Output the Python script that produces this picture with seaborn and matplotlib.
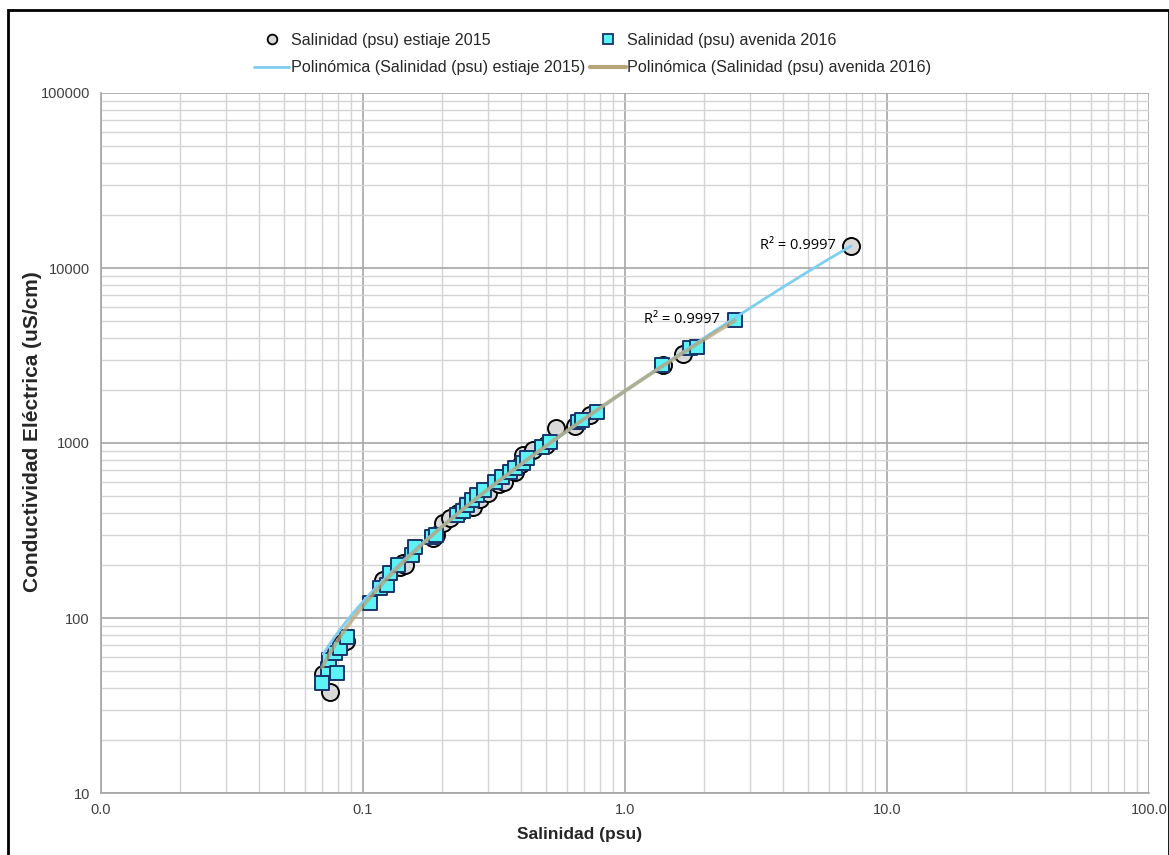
import numpy as np
import pandas as pd
import matplotlib
matplotlib.use("Agg")
import matplotlib.pyplot as plt
import seaborn as sns
from matplotlib.ticker import LogLocator, FixedLocator, FixedFormatter, NullFormatter
from matplotlib.patches import Rectangle
from matplotlib.lines import Line2D

# Salinity (psu) vs electrical conductivity (uS/cm) - dry season 2015
sal_estiaje = [0.0705, 0.0749, 0.083, 0.086, 0.119, 0.138, 0.142, 0.145, 0.185, 0.19,
               0.202, 0.215, 0.23, 0.25, 0.262, 0.28, 0.30, 0.33, 0.345, 0.38,
               0.40, 0.408, 0.446, 0.50, 0.545, 0.645, 0.735, 1.40, 1.66, 7.29]
ce_estiaje = [48, 38, 72, 74, 165, 195, 206, 200, 285, 300,
              349, 375, 400, 440, 430, 480, 520, 580, 600, 680,
              760, 854, 912, 980, 1218, 1250, 1445, 2790, 3226, 13360]

# Wet season 2016
sal_avenida = [0.0698, 0.0735, 0.0741, 0.0784, 0.0796, 0.0817, 0.0869, 0.106, 0.116, 0.124,
               0.127, 0.136, 0.154, 0.158, 0.183, 0.19, 0.229, 0.24, 0.249, 0.26,
               0.272, 0.29, 0.319, 0.34, 0.364, 0.38, 0.408, 0.422, 0.482, 0.517,
               0.662, 0.685, 0.782, 1.38, 1.77, 1.88, 2.63]
ce_avenida = [42.6, 51.2, 57.5, 63, 48.5, 67.4, 77.8, 122, 148, 154,
              181, 201, 229, 255, 290, 300, 388, 410, 443, 470,
              505, 540, 598, 640, 682, 720, 769, 821, 949, 1013,
              1318, 1353, 1503, 2790, 3490, 3540, 5050]

r2_label = "R² = 0.9997"
x_ticks = [0.01, 0.1, 1, 10, 100]
x_tick_labels = ["0.0", "0.1", "1.0", "10.0", "100.0"]
y_ticks = [10, 100, 1000, 10000, 100000]
y_tick_labels = ["10", "100", "1000", "10000", "100000"]

lbl_est = "Salinidad (psu) estiaje 2015"
lbl_ave = "Salinidad (psu) avenida 2016"

df = pd.concat([
    pd.DataFrame({"sal": sal_estiaje, "ce": ce_estiaje, "serie": lbl_est}),
    pd.DataFrame({"sal": sal_avenida, "ce": ce_avenida, "serie": lbl_ave}),
])

sns.set_theme(style="white")
plt.rcParams["font.family"] = ["Liberation Sans", "DejaVu Sans"]

fig = plt.figure(figsize=(11.69, 8.55), dpi=100)
ax = fig.add_axes([101 / 1169, 1 - 793 / 855, 1048 / 1169, 700 / 855])

ax.set_xscale("log")
ax.set_yscale("log")
ax.set_xlim(0.01, 100)
ax.set_ylim(10, 100000)

# grid
ax.xaxis.set_major_locator(FixedLocator(x_ticks))
ax.xaxis.set_major_formatter(FixedFormatter(x_tick_labels))
ax.yaxis.set_major_locator(FixedLocator(y_ticks))
ax.yaxis.set_major_formatter(FixedFormatter(y_tick_labels))
ax.xaxis.set_minor_locator(LogLocator(base=10, subs=np.arange(2, 10), numticks=20))
ax.yaxis.set_minor_locator(LogLocator(base=10, subs=np.arange(2, 10), numticks=20))
ax.xaxis.set_minor_formatter(NullFormatter())
ax.yaxis.set_minor_formatter(NullFormatter())
ax.grid(which="minor", color="#d4d4d4", linewidth=1.0, zorder=0)
ax.grid(which="major", color="#a6a6a6", linewidth=1.2, zorder=0)
ax.set_axisbelow(True)
ax.tick_params(which="both", length=0, labelsize=10.5, colors="#404040")
ax.tick_params(axis="y", pad=8)
ax.tick_params(axis="x", pad=7)
for s in ["top", "right"]:
    ax.spines[s].set_visible(False)
for s in ["left", "bottom"]:
    ax.spines[s].set_color("#a6a6a6")
    ax.spines[s].set_linewidth(1.2)

# scatter points
sns.scatterplot(data=df[df.serie == lbl_est], x="sal", y="ce", ax=ax, marker="o",
                s=150, color="#d9d9d9", edgecolor="black", linewidth=1.4,
                zorder=3, legend=False)
sns.scatterplot(data=df[df.serie == lbl_ave], x="sal", y="ce", ax=ax, marker="s",
                s=110, color="#5cf3f7", edgecolor="#17346b", linewidth=1.4,
                zorder=4, legend=False)

# second order polynomial trend lines (fitted in linear space)
def trend(xs, ys):
    c = np.polyfit(xs, ys, 2)
    xx = np.geomspace(min(xs), max(xs), 300)
    return xx, np.polyval(c, xx)

xe, ye = trend(sal_estiaje, ce_estiaje)
xa, ya = trend(sal_avenida, ce_avenida)
sns.lineplot(x=xe, y=ye, ax=ax, color="#7ccff0", linewidth=2.0, zorder=5,
             sort=False, estimator=None)
sns.lineplot(x=xa, y=ya, ax=ax, color="#b5a57a", linewidth=2.8, alpha=0.75,
             zorder=6, sort=False, estimator=None)

# R² annotations
for xv, yv in [(sal_estiaje[-1], ce_estiaje[-1]), (sal_avenida[-1], ce_avenida[-1])]:
    ax.annotate(r2_label, (xv, yv), xytext=(-11, 0), textcoords="offset points",
                ha="right", va="center", fontsize=10.5,
                family=["Open Sans", "DejaVu Sans"], color="black", zorder=7)

ax.set_xlabel("Salinidad (psu)", fontsize=12.5, fontweight="bold", color="#262626")
ax.set_ylabel("Conductividad Eléctrica (uS/cm)", fontsize=15, fontweight="bold",
              color="#262626")
ax.xaxis.set_label_coords(0.457, -0.049)
ax.yaxis.set_label_coords(-0.056, 0.516)

# legend
handles = [
    Line2D([], [], marker="o", linestyle="none", markersize=7, markerfacecolor="#d9d9d9",
           markeredgecolor="black", markeredgewidth=1.3),
    Line2D([], [], color="#7ccff0", linewidth=2.0),
    Line2D([], [], marker="s", linestyle="none", markersize=7, markerfacecolor="#5cf3f7",
           markeredgecolor="#17346b", markeredgewidth=1.3),
    Line2D([], [], color="#b5a57a", linewidth=3.0),
]
labels = [lbl_est, "Polinómica (" + lbl_est + ")", lbl_ave, "Polinómica (" + lbl_ave + ")"]
fig.legend(handles, labels, ncol=2, loc="center", bbox_to_anchor=(0.507, 1 - 54 / 855),
           frameon=False, prop={"size": 11.6},
           handlelength=2.2, handletextpad=0.1, columnspacing=0.3, labelspacing=0.8)

# outer frame
fig.patches.append(Rectangle((8 / 1169, -0.01), 1160.5 / 1169, 1 - 10 / 855 + 0.01,
                             transform=fig.transFigure, fill=False,
                             edgecolor="black", linewidth=2.0))

fig.savefig("out.png", dpi=100)
